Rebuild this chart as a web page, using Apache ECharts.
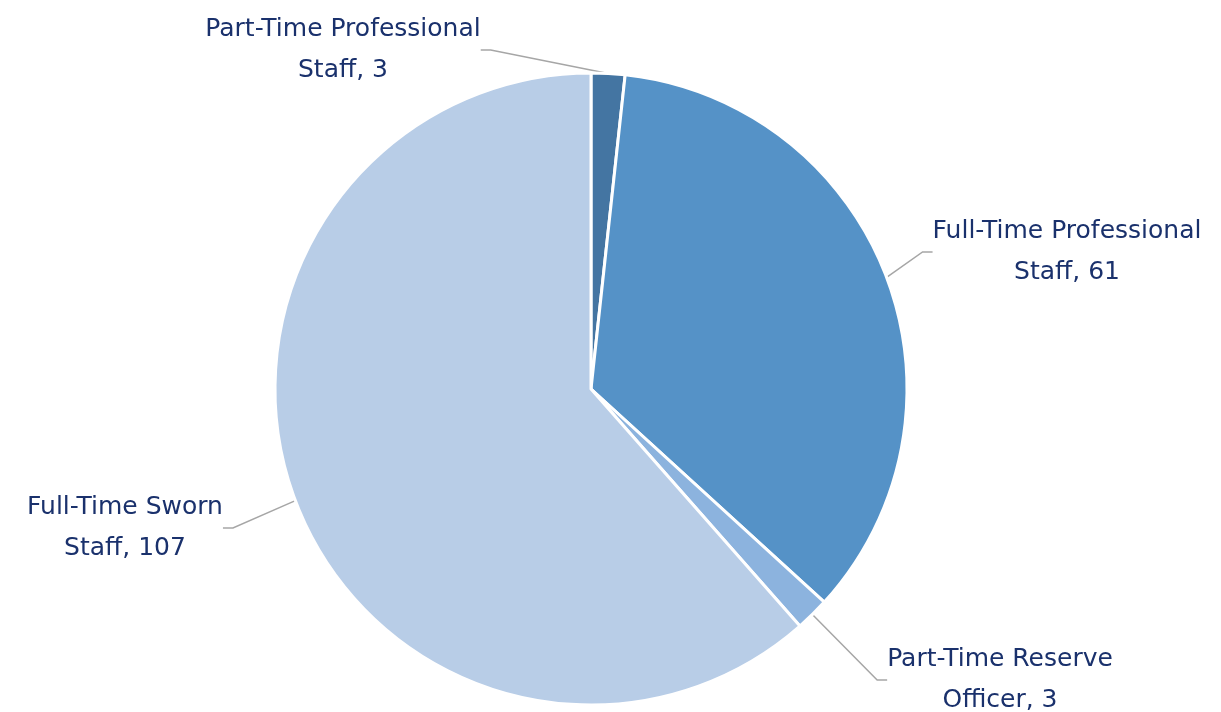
<!DOCTYPE html>
<html>
<head>
<meta charset="utf-8">
<script src="https://cdn.jsdelivr.net/npm/echarts@6/dist/echarts.min.js"></script>
<style>
  html, body { margin: 0; padding: 0; background: #ffffff; }
  #chart { width: 1221px; height: 712px; }
</style>
</head>
<body>
<div id="chart"></div>
<script>
// Staff headcount by category
const categories = [
  'Part-Time Professional Staff',
  'Full-Time Professional Staff',
  'Part-Time Reserve Officer',
  'Full-Time Sworn Staff'
];
const labelLines = [
  ['Part-Time Professional', 'Staff'],
  ['Full-Time Professional', 'Staff'],
  ['Part-Time Reserve', 'Officer'],
  ['Full-Time Sworn', 'Staff']
];
const values = [3, 61, 3, 107];
const colors = ['#4475a2', '#5592c7', '#8cb3de', '#b8cde7'];

// Label block centres (pixels)
const labelSpots = [
  { x: 343, y: 50 },
  { x: 1067, y: 252 },
  { x: 1000, y: 680 },
  { x: 125, y: 528 }
];

const chart = echarts.init(document.getElementById('chart'));
chart.setOption({
  animation: false,
  backgroundColor: '#ffffff',
  series: [{
    type: 'pie',
    center: [591, 389],
    radius: [0, 316],
    startAngle: 90,
    clockwise: true,
    avoidLabelOverlap: false,
    data: categories.map((name, i) => ({
      name: name,
      value: values[i],
      itemStyle: { color: colors[i] }
    })),
    itemStyle: { borderColor: '#ffffff', borderWidth: 3 },
    label: {
      show: true,
      formatter: (p) => {
        const l = labelLines[p.dataIndex];
        return l[0] + '\n' + l[1] + ', ' + p.value;
      },
      fontFamily: 'DejaVu Sans',
      fontSize: 25,
      lineHeight: 41,
      color: '#1a316c',
      align: 'center'
    },
    labelLine: {
      show: true,
      length: 10,
      length2: 10,
      lineStyle: { color: '#a6a6a6', width: 1.5 }
    },
    labelLayout: (params) => {
      const s = labelSpots[params.dataIndex];
      return { x: s.x, y: s.y, align: 'center', verticalAlign: 'middle' };
    }
  }]
});
</script>
</body>
</html>
